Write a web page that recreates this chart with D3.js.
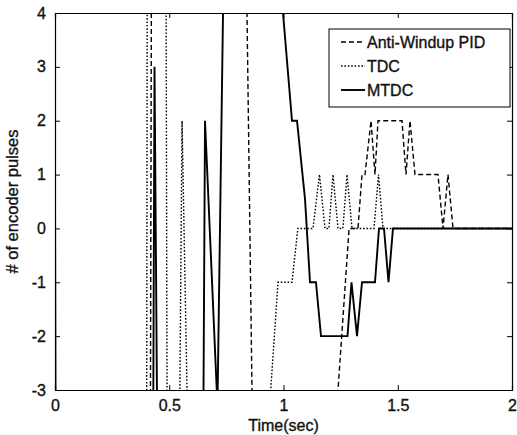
<!DOCTYPE html>
<html>
<head>
<meta charset="utf-8">
<title>encoder pulses</title>
<style>
  body { margin: 0; background: #fff; }
  text { font-family: "Liberation Sans", Arial, sans-serif; fill: #111; stroke: #111; stroke-width: 0.35px; }
</style>
</head>
<body>
<svg id="chart" width="517" height="435"></svg>
<script src="https://cdn.jsdelivr.net/npm/d3@7/dist/d3.min.js"></script>
<script>
// axis ticks
var xTicks = [0, 0.5, 1, 1.5, 2]
var yTicks = [-3, -2, -1, 0, 1, 2, 3, 4]

// series, [time, pulses]; values beyond the axes get clipped
var pidData = [
  [0, -8], [0.415, -8], [0.425, 10], [0.835, 10], [0.8387, 4.5], [0.8637, -3.5], [0.87, -8],
  [1.22, -8], [1.2305, -3.5], [1.287, 0], [1.326, 0], [1.3435, 1], [1.3567, 1], [1.383, 2],
  [1.4004, 1], [1.4136, 2], [1.5186, 2], [1.5361, 1], [1.5536, 2], [1.5755, 1], [1.6761, 1],
  [1.698, 0], [1.7199, 1], [1.7418, 0], [2, 0]
]
var tdcData = [
  [0, -8], [0.400, -8], [0.405, 10], [0.483, 10], [0.493, -8], [0.54, -8], [0.5455, -3.5],
  [0.556, 2], [0.580, -3.5], [0.59, -8], [0.93, -8], [0.936, -3.5], [0.976, -1], [1.037, -1],
  [1.063, 0], [1.129, 0], [1.1575, 1], [1.1816, 0], [1.199, 0], [1.2166, 1], [1.2385, 0],
  [1.26, 0], [1.2779, 1], [1.2998, 0], [1.396, 0], [1.4158, 1], [1.4354, 0], [2, 0]
]
var mtdcData = [
  [0, 0.85], [0.005, -8], [0.425, -8], [0.430, -3.5], [0.4355, 3], [0.447, -3.5], [0.45, -8],
  [0.645, -8], [0.6493, -3.5], [0.6565, 2], [0.711, -3.3], [0.737, 4.5], [0.74, 10], [0.985, 10],
  [0.988, 4.5], [1.0372, 2], [1.0591, 2], [1.0941, 0.55], [1.116, -1], [1.142, -1], [1.1641, -2],
  [1.2801, -2], [1.2976, -1], [1.3217, -2], [1.3435, -1], [1.4004, -1], [1.418, 0], [1.4398, 0],
  [1.4595, -1], [1.4792, 0], [2, 0]
]

var seriesNames = ['Anti-Windup PID', 'TDC', 'MTDC']
var seriesData = [pidData, tdcData, mtdcData]
var seriesDash = ['5,3', '1.6,1.8', null]
var seriesWidth = [1.4, 1.4, 1.9]

var margin = {top: 13, right: 5, bottom: 45, left: 55}
var width = 517 - margin.left - margin.right
var height = 435 - margin.top - margin.bottom

var svg = d3.select('#chart')
var g = svg.append('g').attr('transform', 'translate(' + margin.left + ',' + margin.top + ')')

var x = d3.scaleLinear().domain([0, 2]).range([0, width])
var y = d3.scaleLinear().domain([-3, 4]).range([height, 0])

g.append('clipPath').attr('id', 'clip')
  .append('rect').attr('width', width).attr('height', height)

var line = d3.line()
  .x(function(d){ return x(d[0]) })
  .y(function(d){ return y(d[1]) })

// lines
g.append('g').attr('clip-path', 'url(#clip)')
  .selectAll('path')
  .data(seriesData)
  .enter().append('path')
  .attr('d', line)
  .attr('fill', 'none')
  .attr('stroke', '#000')
  .attr('stroke-width', function(d, i){ return seriesWidth[i] })
  .attr('stroke-dasharray', function(d, i){ return seriesDash[i] })

// axes, matlab style: inward ticks on all four sides
g.append('g').attr('transform', 'translate(0,' + height + ')')
  .call(d3.axisBottom(x).tickValues(xTicks).tickSize(-5).tickPadding(10).tickFormat(function(d){ return String(d) }))
g.append('g')
  .call(d3.axisTop(x).tickValues(xTicks).tickSize(-5).tickFormat(''))
g.append('g')
  .call(d3.axisLeft(y).tickValues(yTicks).tickSize(-5).tickPadding(9).tickFormat(function(d){ return String(d) }))
g.append('g').attr('transform', 'translate(' + width + ',0)')
  .call(d3.axisRight(y).tickValues(yTicks).tickSize(-5).tickFormat(''))

g.selectAll('.domain').attr('stroke', '#000').attr('stroke-width', 1.2)
g.selectAll('.tick line').attr('stroke', '#000')
g.selectAll('.tick text').attr('font-size', 16).attr('fill', '#111')
  .style('font-family', '"Liberation Sans", Arial, sans-serif')

// axis titles
svg.append('text')
  .attr('x', margin.left + width / 2)
  .attr('y', 431)
  .attr('text-anchor', 'middle')
  .attr('font-size', 16)
  .text('Time(sec)')

svg.append('text')
  .attr('transform', 'translate(18,' + (margin.top + height / 2) + ') rotate(-90)')
  .attr('text-anchor', 'middle')
  .attr('font-size', 16.5)
  .text('# of encoder pulses')

// legend
var legend = svg.append('g').attr('transform', 'translate(329,29)')
legend.append('rect')
  .attr('width', 181).attr('height', 78)
  .attr('fill', '#fff').attr('stroke', '#000').attr('stroke-width', 1)

var item = legend.selectAll('.item')
  .data(seriesNames)
  .enter().append('g')
  .attr('transform', function(d, i){ return 'translate(0,' + (13 + i * 24) + ')' })

item.append('line')
  .attr('x1', 12).attr('x2', 36)
  .attr('stroke', '#000')
  .attr('stroke-width', function(d, i){ return seriesWidth[i] })
  .attr('stroke-dasharray', function(d, i){ return seriesDash[i] })

item.append('text')
  .attr('x', 38)
  .attr('dy', '0.35em')
  .attr('font-size', 16)
  .text(function(d){ return d })
</script>
</body>
</html>
